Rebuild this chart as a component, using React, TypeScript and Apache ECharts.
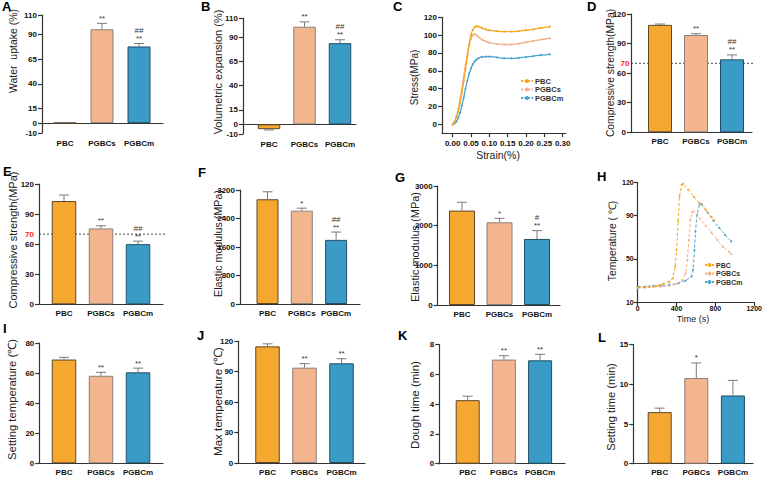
import React, { useEffect, useRef } from "react";
import * as echarts from "echarts";

const FONT = '"Liberation Sans", Arial, Helvetica, sans-serif';

// ---------- data ----------
const groups = ["PBC", "PGBCs", "PGBCm"];

// A  Water uptake (%)
const waterUptakeMean = [0.4, 95.5, 78];
const waterUptakeSd = [0.3, 6, 3];
const waterUptakeSig = ["", "**", "##\n**"];
const waterUptakeTicks = [-10, 0, 15, 40, 65, 90, 110];

// B  Volumetric expansion (%)
const volExpMean = [-5, 101, 84];
const volExpSd = [0.8, 5, 3.5];
const volExpSig = ["", "**", "##\n**"];
const volExpTicks = [-10, 0, 15, 40, 65, 90, 110];

// C  stress-strain curves
const strainPBC = [0, 0.005, 0.01, 0.015, 0.02, 0.025, 0.03, 0.035, 0.04, 0.045, 0.05, 0.055, 0.06, 0.065, 0.07, 0.08, 0.09, 0.1, 0.12, 0.14, 0.16, 0.18, 0.2, 0.22, 0.24, 0.265];
const stressPBC = [0, 3, 8, 14, 24, 35, 48, 62, 76, 90, 100, 106, 109, 110, 109.5, 108, 106.5, 105.5, 104.5, 104, 104, 104.5, 105.5, 106.5, 108, 109.5];
const strainPGBCs = [0, 0.005, 0.01, 0.015, 0.02, 0.025, 0.03, 0.035, 0.04, 0.045, 0.05, 0.055, 0.06, 0.065, 0.07, 0.08, 0.09, 0.1, 0.12, 0.14, 0.16, 0.18, 0.2, 0.22, 0.24, 0.265];
const stressPGBCs = [0, 3, 9, 17, 28, 40, 54, 67, 79, 89, 96, 100, 101, 100, 98, 95, 93, 91.5, 90, 89.5, 89.5, 90.5, 92, 93.5, 95, 96.5];
const strainPGBCm = [0, 0.005, 0.01, 0.015, 0.02, 0.025, 0.03, 0.035, 0.04, 0.045, 0.05, 0.055, 0.06, 0.065, 0.07, 0.08, 0.09, 0.1, 0.12, 0.14, 0.16, 0.18, 0.2, 0.22, 0.24, 0.265];
const stressPGBCm = [0, 1, 3, 7, 13, 21, 30, 40, 49, 57, 63, 67.5, 70.5, 72.5, 74, 75.5, 76, 76, 75, 74, 74, 74.5, 75.5, 76.5, 77.5, 78.5];
const strainTicks = [0, 0.05, 0.1, 0.15, 0.2, 0.25, 0.3];
const stressTicks = [0, 20, 40, 60, 80, 100, 120];

// D  Compressive strength (MPa)
const compDMean = [109, 98.7, 74];
const compDSd = [0.8, 1.3, 4.5];
const compDSig = ["", "**", "##\n**"];
const compDTicks = [0, 30, 60, 90, 120];

// E  Compressive strength (MPa)
const compEMean = [103, 75.7, 60];
const compESd = [6, 2.6, 3];
const compESig = ["", "**", "##\n**"];
const compETicks = [0, 30, 60, 90, 120];

const compThreshold = 70;

// F  Elastic modulus (MPa)
const elasFMean = [2940, 2620, 1800];
const elasFSd = [210, 70, 220];
const elasFSig = ["", "*", "##\n**"];
const elasFTicks = [0, 800, 1600, 2400, 3200];

// G  Elastic modulus (MPa)
const elasGMean = [2380, 2085, 1665];
const elasGSd = [210, 100, 210];
const elasGSig = ["", "*", "#\n**"];
const elasGTicks = [0, 1000, 2000, 3000];

// H  temperature-time curves
const timePBC = [0, 60, 120, 190, 260, 326, 360, 386, 400, 417, 430, 454, 467, 520, 580, 640, 700, 760, 786];
const tempPBC = [23.5, 24, 24.5, 25, 27, 29, 32, 43, 58, 84.5, 107.5, 118, 119, 113.5, 107, 101, 95, 88.5, 85.5];
const timePGBCs = [0, 80, 160, 240, 326, 400, 460, 494, 511, 527, 544, 561, 578, 640, 700, 760, 820, 880, 940, 964];
const tempPGBCs = [23, 23.5, 24, 24.5, 25, 27, 30.6, 36.8, 49, 67.5, 86, 93, 93.7, 87, 80.5, 74, 67.5, 61, 56.5, 54.3];
const timePGBCm = [0, 80, 160, 240, 326, 420, 494, 554, 571, 585, 595, 611, 638, 662, 720, 780, 840, 900, 964];
const tempPGBCm = [24.5, 24.5, 25, 25.5, 26, 27.5, 30, 33.7, 40, 58, 75, 90.6, 100.5, 100, 92.5, 85, 78.5, 72, 66];
const timeTicks = [0, 400, 800, 1200];
const tempTicks = [10, 50, 90, 120];

// I  Setting temperature
const setTempMean = [69, 58.2, 60.5];
const setTempSd = [1.5, 2.3, 2.8];
const setTempSig = ["", "**", "**"];
const setTempTicks = [0, 20, 40, 60, 80];

// J  Max temperature
const maxTempMean = [115, 94, 98.3];
const maxTempSd = [2.5, 4, 4.5];
const maxTempSig = ["", "**", "**"];
const maxTempTicks = [0, 30, 60, 90, 120];

// K  Dough time
const doughMean = [4.27, 7.0, 6.95];
const doughSd = [0.27, 0.26, 0.4];
const doughSig = ["", "**", "**"];
const doughTicks = [0, 2, 4, 6, 8];

// L  Setting time
const setTimeMean = [6.5, 10.8, 8.6];
const setTimeSd = [0.5, 1.9, 1.9];
const setTimeSig = ["", "*", ""];
const setTimeTicks = [0, 5, 10, 15];

// ---------- styles ----------
const fills = ["#F5A82F", "#F2B58D", "#3A9BC6"];
const borders = ["#5e4629", "#8c807a", "#1f4f66"];
const lineColors = ["#F5A623", "#F4B08A", "#4BA3CB"];
const AXIS = "#333";

type BarPanel = {
  letter: string;
  title: string;
  mean: number[];
  sd: number[];
  sig: string[];
  ticks: number[];
  ref?: number;
  onZero?: boolean;
  L: { left: number; right: number; top: number; bottom: number; c0: number; sp: number; barW: number; catMargin: number; tx: number; ty: number; ts: number; lx: number; ly: number; refGap?: number };
};

const barPanels: BarPanel[] = [
  { letter: "A", title: "Water  uptake (%)", mean: waterUptakeMean, sd: waterUptakeSd, sig: waterUptakeSig, ticks: waterUptakeTicks, onZero: true,
    L: { left: 42, right: 163, top: 15, bottom: 133, c0: 65, sp: 37, barW: 23, catMargin: 6, tx: 13, ty: 51, ts: 10.5, lx: 2, ly: 6 } },
  { letter: "B", title: "Volumetric expansion (%)", mean: volExpMean, sd: volExpSd, sig: volExpSig, ticks: volExpTicks, onZero: true,
    L: { left: 243, right: 356, top: 18, bottom: 134, c0: 269, sp: 35.5, barW: 22.5, catMargin: 6, tx: 218, ty: 72, ts: 11, lx: 201, ly: 6.5 } },
  { letter: "D", title: "Compressive strength(MPa)", mean: compDMean, sd: compDSd, sig: compDSig, ticks: compDTicks, ref: compThreshold,
    L: { left: 631, right: 752, top: 14, bottom: 132.3, c0: 660, sp: 36, barW: 24, catMargin: 5, tx: 610.5, ty: 73, ts: 10.3, lx: 587, ly: 6.5, refGap: 1.5 } },
  { letter: "E", title: "Compressive strength(MPa)", mean: compEMean, sd: compESd, sig: compESig, ticks: compETicks, ref: compThreshold,
    L: { left: 39, right: 163, top: 184, bottom: 304.3, c0: 64, sp: 37, barW: 24.5, catMargin: 5, tx: 13, ty: 240, ts: 11, lx: 3, ly: 171, refGap: 5 } },
  { letter: "F", title: "Elastic modulus (MPa)", mean: elasFMean, sd: elasFSd, sig: elasFSig, ticks: elasFTicks,
    L: { left: 240, right: 360, top: 190, bottom: 304, c0: 267.5, sp: 34.3, barW: 22, catMargin: 5, tx: 218, ty: 243.5, ts: 10.7, lx: 198, ly: 172 } },
  { letter: "G", title: "Elastic modulus (MPa)", mean: elasGMean, sd: elasGSd, sig: elasGSig, ticks: elasGTicks,
    L: { left: 437.7, right: 560, top: 186, bottom: 305, c0: 462, sp: 37.5, barW: 26, catMargin: 5, tx: 415, ty: 247, ts: 11, lx: 395, ly: 177 } },
  { letter: "I", title: "Setting temperature (\u2103)", mean: setTempMean, sd: setTempSd, sig: setTempSig, ticks: setTempTicks,
    L: { left: 39.3, right: 163, top: 343, bottom: 463.3, c0: 64, sp: 37, barW: 24.5, catMargin: 5, tx: 12, ty: 399.5, ts: 11.3, lx: 3, ly: 328.5 } },
  { letter: "J", title: "Max temperature (\u2103)", mean: maxTempMean, sd: maxTempSd, sig: maxTempSig, ticks: maxTempTicks,
    L: { left: 238.3, right: 365, top: 341.3, bottom: 463, c0: 267.5, sp: 37, barW: 24.5, catMargin: 5, tx: 218, ty: 401.5, ts: 11.5, lx: 197, ly: 335.5 } },
  { letter: "K", title: "Dough time (min)", mean: doughMean, sd: doughSd, sig: doughSig, ticks: doughTicks,
    L: { left: 439.3, right: 565, top: 344.7, bottom: 463.7, c0: 467.7, sp: 36.2, barW: 24, catMargin: 5, tx: 414.5, ty: 405, ts: 11.5, lx: 398, ly: 335.5 } },
  { letter: "L", title: "Setting time (min)", mean: setTimeMean, sd: setTimeSd, sig: setTimeSig, ticks: setTimeTicks,
    L: { left: 633.3, right: 753, top: 344.7, bottom: 463.7, c0: 659.7, sp: 36.6, barW: 24, catMargin: 5, tx: 611, ty: 407, ts: 11.2, lx: 598, ly: 337.5 } },
];

const tickLabel = { fontSize: 8, fontWeight: "bold" as const, color: "#111", fontFamily: FONT, formatter: (v: number) => String(v) };

function buildOption() {
  const grid: any[] = [];
  const xAxis: any[] = [];
  const yAxis: any[] = [];
  const series: any[] = [];
  const graphic: any[] = [];

  const addTitle = (text: string, x: number, y: number, size: number, rotate: boolean) => {
    graphic.push({
      type: "text", x, y, rotation: rotate ? Math.PI / 2 : 0, silent: true,
      style: { text, fontSize: size, fontFamily: FONT, fill: "#222", textAlign: "center", textVerticalAlign: "middle", align: "center", verticalAlign: "middle" },
    });
  };
  const addLetter = (t: string, x: number, y: number) => {
    graphic.push({
      type: "text", x, y, silent: true,
      style: { text: t, fontSize: 13, fontWeight: "bold", fontFamily: FONT, fill: "#000", textAlign: "left", textVerticalAlign: "middle", align: "left", verticalAlign: "middle" },
    });
  };
  const yAxisBase = (k: number, min: number, max: number, ticks: number[], fs = 8) => ({
    type: "value", gridIndex: k, min, max,
    axisLine: { show: true, onZero: false, lineStyle: { color: AXIS, width: 1.2 } },
    axisTick: { show: true, length: 4, customValues: ticks, lineStyle: { color: AXIS, width: 1.2 } },
    splitLine: { show: false },
    axisLabel: { ...tickLabel, fontSize: fs, margin: 5, customValues: ticks },
  });

  barPanels.forEach((p) => {
    const k = grid.length;
    const L = p.L;
    const width = L.right - L.left;
    const xMin = -(L.c0 - L.left) / L.sp;
    const xMax = xMin + width / L.sp;
    const yMin = p.ticks[0];
    const yMax = p.ticks[p.ticks.length - 1];
    grid.push({ left: L.left, top: L.top, width, height: L.bottom - L.top });
    xAxis.push({
      type: "value", gridIndex: k, min: xMin, max: xMax,
      axisLine: { show: true, onZero: !!p.onZero, lineStyle: { color: AXIS, width: 1.2 } },
      axisTick: { show: false },
      splitLine: { show: false },
      axisLabel: { ...tickLabel, margin: L.catMargin, customValues: [0, 1, 2], formatter: (v: number) => groups[Math.round(v)] ?? "" },
    });
    yAxis.push(yAxisBase(k, yMin, yMax, p.ticks));
    if (p.ref !== undefined) {
      const gap = L.refGap ?? 3;
      series.push({
        type: "custom", xAxisIndex: k, yAxisIndex: k, z: 1, silent: true,
        data: [[0, p.ref]],
        renderItem: (params: any, api: any) => {
          const cs = params.coordSys;
          const v = api.value(1);
          const y = api.coord([0, v])[1];
          return {
            type: "group",
            children: [
              { type: "line", shape: { x1: cs.x, y1: y, x2: cs.x + cs.width + 3, y2: y }, style: { stroke: "#444", lineWidth: 1, lineDash: [2, 2] } },
              { type: "text", x: cs.x - gap, y, style: { text: String(v), fill: "#ff2020", fontWeight: "bold", fontSize: 8, fontFamily: FONT, textAlign: "right", textVerticalAlign: "middle", align: "right", verticalAlign: "middle" } },
            ],
          };
        },
      });
    }
    series.push({
      type: "bar", xAxisIndex: k, yAxisIndex: k, barWidth: L.barW, z: 3, silent: true,
      data: p.mean.map((v, i) => ({ value: [i, v], itemStyle: { color: fills[i], borderColor: borders[i], borderWidth: 1 } })),
    });
    const sig = p.sig;
    series.push({
      type: "custom", xAxisIndex: k, yAxisIndex: k, z: 4, silent: true,
      data: p.mean.map((v, i) => [i, v, p.sd[i]]),
      renderItem: (params: any, api: any) => {
        const i = api.value(0), m = api.value(1), s = api.value(2);
        const end = m >= 0 ? m + s : m - s;
        const a = api.coord([i, m]);
        const b = api.coord([i, end]);
        const children: any[] = [
          { type: "line", shape: { x1: a[0], y1: a[1], x2: b[0], y2: b[1] }, style: { stroke: "#7a7a7a", lineWidth: 1 } },
          { type: "line", shape: { x1: b[0] - 5, y1: b[1], x2: b[0] + 5, y2: b[1] }, style: { stroke: "#7a7a7a", lineWidth: 1 } },
        ];
        const t = sig[params.dataIndex];
        if (t) {
          const lines = t.split("\n").reverse();
          lines.forEach((ln: string, j: number) => {
            children.push({
              type: "text", x: b[0], y: b[1] - 1 - j * 8,
              style: { text: ln, fontSize: 8, fontFamily: FONT, fill: "#333", textAlign: "center", textVerticalAlign: "bottom", align: "center", verticalAlign: "bottom" },
            });
          });
        }
        return { type: "group", children };
      },
    });
    addTitle(p.title, L.tx, L.ty, L.ts, true);
    addLetter(p.letter, L.lx, L.ly);
  });

  // ---- C: stress-strain ----
  {
    const k = grid.length;
    const left = 442, right = 566, top = 17.3, bottom = 133.2;
    const zeroX = 452.7, pxPer = 18.33 / 0.05;
    grid.push({ left, top, width: right - left, height: bottom - top });
    xAxis.push({
      type: "value", gridIndex: k, min: -(zeroX - left) / pxPer, max: -(zeroX - left) / pxPer + (right - left) / pxPer,
      axisLine: { show: true, onZero: false, lineStyle: { color: AXIS, width: 1.2 } },
      axisTick: { show: true, length: 4, customValues: strainTicks, lineStyle: { color: AXIS, width: 1.2 } },
      splitLine: { show: false },
      axisLabel: { ...tickLabel, margin: 6, customValues: strainTicks, formatter: (v: number) => v.toFixed(2) },
    });
    yAxis.push(yAxisBase(k, -10, 120, stressTicks));
    const curves = [
      [strainPBC, stressPBC],
      [strainPGBCs, stressPGBCs],
      [strainPGBCm, stressPGBCm],
    ];
    curves.forEach(([xs, ys], i) => {
      series.push({
        type: "line", name: groups[i], xAxisIndex: k, yAxisIndex: k, smooth: true, z: 3 - i,
        symbol: "circle", symbolSize: 2, showSymbol: true,
        data: xs.map((x, j) => [x, ys[j]]),
        itemStyle: { color: lineColors[i] },
        lineStyle: { color: lineColors[i], width: 1.3 },
      });
    });
    addTitle("Stress(MPa)", 414, 77.5, 10, true);
    addTitle("Strain(%)", 498, 155, 10.5, false);
    addLetter("C", 393, 6.5);
  }

  // ---- H: temperature-time ----
  {
    const k = grid.length;
    const left = 637.7, right = 756.7, top = 182.7, bottom = 302.3;
    grid.push({ left, top, width: right - left, height: bottom - top });
    xAxis.push({
      type: "value", gridIndex: k, min: 0, max: 1200,
      axisLine: { show: true, onZero: false, lineStyle: { color: AXIS, width: 1.2 } },
      axisTick: { show: true, length: 4, customValues: timeTicks, lineStyle: { color: AXIS, width: 1.2 } },
      splitLine: { show: false },
      axisLabel: { ...tickLabel, fontSize: 7, margin: 3, customValues: timeTicks },
    });
    const ya: any = yAxisBase(k, 10, 120, tempTicks, 7);
    ya.axisLabel.margin = 4;
    yAxis.push(ya);
    const curves = [
      [timePBC, tempPBC],
      [timePGBCs, tempPGBCs],
      [timePGBCm, tempPGBCm],
    ];
    curves.forEach(([xs, ys], i) => {
      series.push({
        type: "line", name: groups[i], xAxisIndex: k, yAxisIndex: k, z: 3 - i,
        symbol: "circle", symbolSize: 2, showSymbol: true,
        data: xs.map((x, j) => [x, ys[j]]),
        itemStyle: { color: lineColors[i] },
        lineStyle: { color: lineColors[i], width: 1, type: [3, 2] },
      });
    });
    addTitle("Temperature ( \u2103)", 612, 241, 10.3, true);
    addTitle("Time (s)", 693, 319, 9, false);
    addLetter("H", 597, 176.5);
  }

  const legendCommon = {
    orient: "vertical", itemHeight: 5, itemGap: 0.5,
    textStyle: { fontSize: 7.5, lineHeight: 8, fontWeight: "bold", color: "#333", fontFamily: FONT, padding: [0, 0, 0, -3] },
    lineStyle: { type: [2, 1.5] },
    data: groups, selectedMode: false, padding: 0,
  };

  return {
    animation: false,
    backgroundColor: "#fff",
    grid, xAxis, yAxis, series,
    legend: [
      { ...legendCommon, itemWidth: 12, left: 520, top: 77 },
      { ...legendCommon, itemWidth: 9, left: 704, top: 261, textStyle: { ...legendCommon.textStyle, fontSize: 7 } },
    ],
    graphic,
  };
}

export default function App() {
  const ref = useRef<HTMLDivElement>(null);
  useEffect(() => {
    const chart = echarts.init(ref.current!, null, { renderer: "svg" });
    chart.setOption(buildOption() as any);
    return () => chart.dispose();
  }, []);
  return <div ref={ref} style={{ position: "fixed", left: 0, top: 0, width: 765, height: 478, background: "#fff" }} />;
}
